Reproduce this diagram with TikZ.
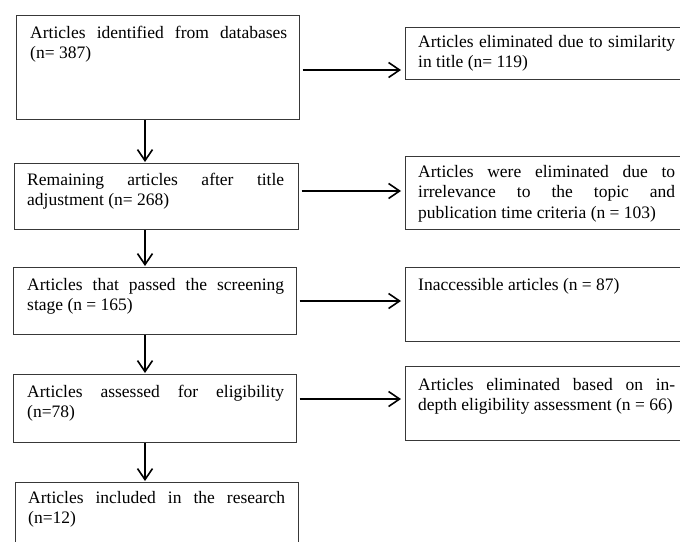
\documentclass[tikz,border=0pt]{standalone}
\usepackage{fontspec}
\setmainfont{Liberation Serif}
\usetikzlibrary{arrows.meta}
\hyphenpenalty=10000
\tolerance=10000
\tikzset{
  box/.style={draw=black!78, line width=1.1pt, anchor=north west, inner sep=0pt},
  txt/.style={anchor=base west, inner sep=0pt, text width=257pt, align=justify,
    font=\fontsize{17.5}{20.5}\selectfont},
  arr/.style={line width=1.6pt, -{Straight Barb[length=11pt, width=15pt, line width=1.6pt]}}
}
\begin{document}
\begin{tikzpicture}[x=1pt, y=-1pt]
\useasboundingbox (0,0) rectangle (680,541);
\fill[white] (0,0) rectangle (680,541);
\clip (0,0) rectangle (680,541);
% left column boxes
\node[box, minimum width=283pt, minimum height=104pt] (b1) at (16,15) {};
\node[box, minimum width=284pt, minimum height=66pt] (b2) at (14,163) {};
\node[box, minimum width=283pt, minimum height=67pt] (b3) at (13,267) {};
\node[box, minimum width=283pt, minimum height=68pt] (b4) at (13,374) {};
\node[box, minimum width=283pt, minimum height=80pt] (b5) at (15,482) {};
% right column boxes
\node[box, minimum width=285pt, minimum height=52pt] (r1) at (405,27) {};
\node[box, minimum width=285pt, minimum height=73pt] (r2) at (405,156) {};
\node[box, minimum width=285pt, minimum height=74pt] (r3) at (405,267) {};
\node[box, minimum width=285pt, minimum height=74pt] (r4) at (405,366) {};
% texts
\path (b1.north west) ++(14,23) node[txt] (t1) {Articles identified from databases\linebreak (n= 387)};
\path (b2.north west) ++(13,22) node[txt] (t2) {Remaining articles after title\linebreak adjustment (n= 268)};
\path (b3.north west) ++(14,23) node[txt] (t3) {Articles that passed the screening\linebreak stage (n = 165)};
\path (b4.north west) ++(14,23) node[txt] (t4) {Articles assessed for eligibility\linebreak (n=78)};
\path (b5.north west) ++(13,21) node[txt] (t5) {Articles included in the research\linebreak (n=12)};
\path (r1.north west) ++(13,20) node[txt] (u1) {Articles eliminated due to similarity\linebreak in title (n= 119)};
\path (r2.north west) ++(13,21) node[txt] (u2) {Articles were eliminated due to\linebreak irrelevance to the topic and\linebreak publication time criteria (n = 103)};
\path (r3.north west) ++(13,23) node[txt] (u3) {Inaccessible articles (n = 87)};
\path (r4.north west) ++(13,24) node[txt] (u4) {Articles eliminated based on in-\linebreak depth eligibility assessment (n = 66)};
% connector helpers
\coordinate (ax) at (145,0);
\coordinate (y1) at (0,70);
\coordinate (y2) at (0,191);
\coordinate (y3) at (0,301);
\coordinate (y4) at (0,399);
% vertical arrows
\draw[arr, shorten >=1pt] (b1.south -| ax) -- (b2.north -| ax);
\draw[arr, shorten >=1pt] (b2.south -| ax) -- (b3.north -| ax);
\draw[arr, shorten >=1pt] (b3.south -| ax) -- (b4.north -| ax);
\draw[arr, shorten >=1pt] (b4.south -| ax) -- (b5.north -| ax);
% horizontal arrows
\draw[arr, shorten <=2.5pt, shorten >=4pt] (b1.east |- y1) -- (r1.west |- y1);
\draw[arr, shorten <=2.5pt, shorten >=4pt] (b2.east |- y2) -- (r2.west |- y2);
\draw[arr, shorten <=2.5pt, shorten >=4pt] (b3.east |- y3) -- (r3.west |- y3);
\draw[arr, shorten <=2.5pt, shorten >=4pt] (b4.east |- y4) -- (r4.west |- y4);
\end{tikzpicture}
\end{document}
